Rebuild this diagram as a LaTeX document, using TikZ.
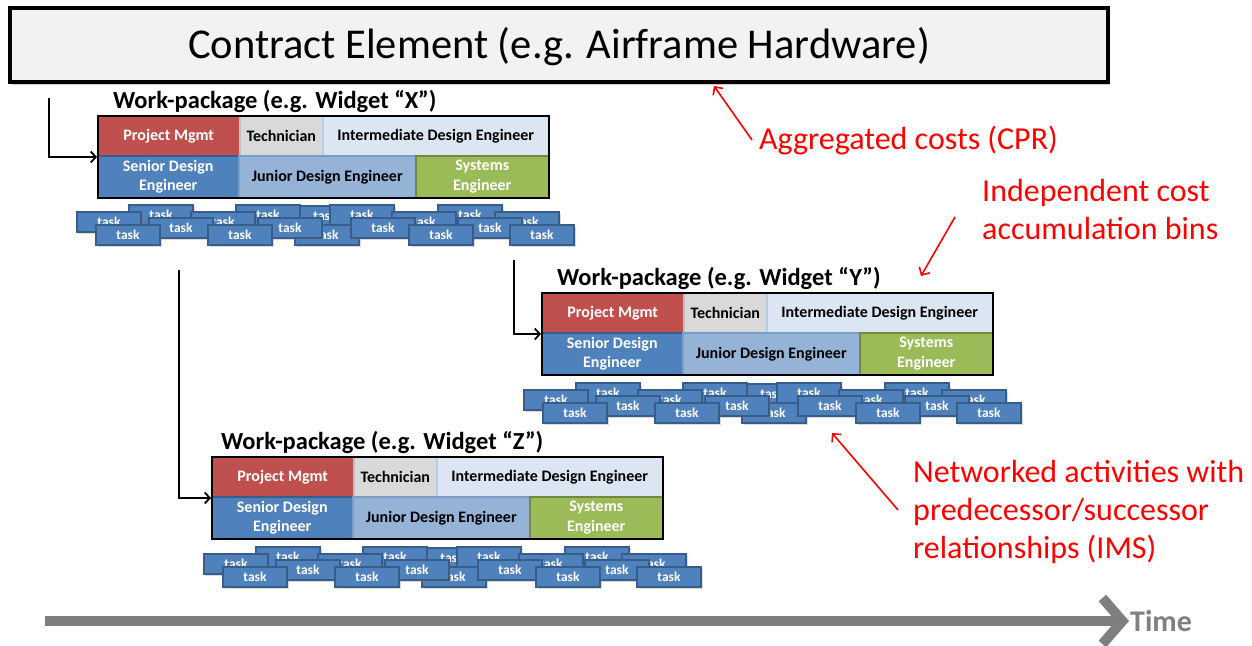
\documentclass[tikz,border=0pt]{standalone}
\usepackage{fontspec}
\setmainfont{Carlito}
\usetikzlibrary{positioning,arrows.meta,shadows}

\definecolor{pmred}{HTML}{C0504D}
\definecolor{pmredline}{HTML}{8C3836}
\definecolor{techgray}{HTML}{D9D9D9}
\definecolor{techline}{HTML}{BFBFBF}
\definecolor{intblue}{HTML}{DCE6F2}
\definecolor{intline}{HTML}{B9CDE5}
\definecolor{senblue}{HTML}{4F81BD}
\definecolor{senline}{HTML}{385D8A}
\definecolor{junblue}{HTML}{95B3D7}
\definecolor{junline}{HTML}{7A9CC8}
\definecolor{sysgreen}{HTML}{9BBB59}
\definecolor{sysline}{HTML}{71893F}
\definecolor{timegray}{HTML}{7F7F7F}

\tikzset{
  cell/.style 2 args={fill=#1, draw=#2, line width=1.5pt, anchor=north west,
    inner sep=0pt, minimum height=40pt, align=center,
    font=\fontsize{16}{19.5}\selectfont\bfseries},
  wpbox/.style={draw=black, line width=2pt, anchor=north west, inner sep=0pt,
    minimum width=451pt, minimum height=82pt},
  wptitle/.style={anchor=base west, inner sep=0pt,
    font=\fontsize{24.5}{28}\selectfont\bfseries},
  taskbox/.style={fill=senblue, draw=senline, line width=2pt, anchor=north west,
    minimum width=64pt, minimum height=20pt, inner sep=0pt, text=white,
    font=\fontsize{13.5}{15}\selectfont\bfseries,
    drop shadow={shadow xshift=1.5pt, shadow yshift=-2pt, opacity=.3}},
  flow/.style={draw=black, line width=1.8pt, -{Straight Barb[length=5pt,width=11pt]}},
  callout/.style={draw=red, line width=1.6pt, -{Straight Barb[length=6pt,width=12pt]}},
  note/.style={text=red, inner sep=0pt, align=left,
    font=\fontsize{32}{38}\selectfont},
}

\begin{document}
\begin{tikzpicture}[x=1pt, y=-1pt]
\useasboundingbox (0,0) rectangle (1252,645);

% contract element
\node[draw=black, line width=3.5pt, fill=black!5, minimum width=1098pt,
  minimum height=74pt, inner sep=0pt, text height=36pt, text depth=9pt,
  font=\fontsize{42.5}{50}\selectfont,
  drop shadow={shadow xshift=2pt, shadow yshift=-3pt, opacity=.4}]
  (contract) at (559,45) {Contract Element (e.g. Airframe Hardware)};

% work packages
\foreach \n/\bx/\by/\tx in {X/97/115/16, Y/541/292/16, Z/211/456/10} {
  \node[wptitle] (title\n) at (\bx+\tx,\by-7) {Work-package (e.g. Widget “\n”)};
  \node[cell={pmred}{pmredline}, minimum width=142pt, text=white] (pm\n) at (\bx,\by) {Project Mgmt};
  \node[cell={techgray}{techline}, minimum width=83pt] (tech\n) at (\bx+142,\by) {Technician};
  \node[cell={intblue}{intline}, minimum width=226pt] (int\n) at (\bx+225,\by) {Intermediate Design Engineer};
  \node[cell={senblue}{senline}, minimum width=141pt, minimum height=42pt, text=white] (sen\n) at (\bx,\by+40) {Senior Design\\Engineer};
  \node[cell={junblue}{junline}, minimum width=177pt, minimum height=42pt] (jun\n) at (\bx+141,\by+40) {Junior Design Engineer};
  \node[cell={sysgreen}{sysline}, minimum width=133pt, minimum height=42pt, text=white] (sys\n) at (\bx+318,\by+40) {Systems\\Engineer};
  \node[wpbox] (wp\n) at (\bx,\by) {};
}

% task networks
\foreach \n/\cx/\cy in {X/75/203, Y/522/381, Z/202/545}
  \foreach \dx/\dy [count=\i] in {216/1, 52/0, 159/0, 253/0, 361/0, 0/7, 114/7, 315/7, 418/7,
      218/20, 72/13, 181/13, 274/13, 381/13, 19/20, 131/20, 332/20, 433/20}
    \node[taskbox] (task\n\i) at (\cx+\dx+1,\cy+\dy+1) {task};

% roll-up connectors
\coordinate (srcX) at (49,98);
\coordinate (srcY) at (514,260);
\coordinate (srcZ) at (179,270);
\draw[flow] (srcX) |- (wpX.west);
\draw[flow] (srcY) |- (wpY.west);
\draw[flow] (srcZ) |- (wpZ.west);

% callouts
\node[note, anchor=base west] (agg) at (759,149) {Aggregated costs (CPR)};
\node[note, anchor=north west] (bins) at (982,179) {Independent cost\\accumulation bins};
\node[note, anchor=north west] (ims) at (913,460) {Networked activities with\\predecessor/successor\\relationships (IMS)};
\coordinate (aggS) at (752,140);
\coordinate (aggT) at (714,86);
\coordinate (binS) at (955,217);
\coordinate (binT) at (921,276);
\coordinate (imsS) at (898,510);
\coordinate (imsT) at (832,433);
\draw[callout] (aggS) -- (aggT);
\draw[callout] (binS) -- (binT);
\draw[callout] (imsS) -- (imsT);

% time axis
\coordinate (t0) at (45,621);
\node[anchor=west, inner sep=1pt, text=timegray, font=\fontsize{30}{34}\selectfont\bfseries]
  (time) at (1129,621) {Time};
\draw[draw=timegray, line width=10pt,
  -{Straight Barb[length=20pt,width=46pt,line width=10pt]}] (t0) -- (time.west);
\end{tikzpicture}
\end{document}
